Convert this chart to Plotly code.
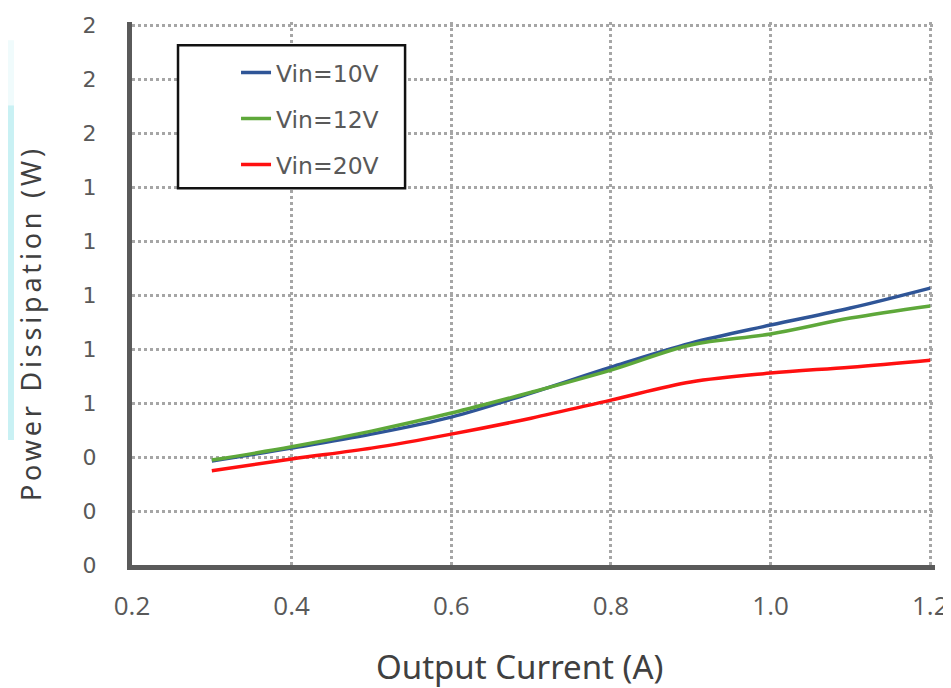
import plotly.graph_objects as go

current = [0.3, 0.4, 0.5, 0.6, 0.7, 0.8, 0.9, 1.0, 1.1, 1.2]
vin10 = [0.385, 0.433, 0.485, 0.548, 0.637, 0.733, 0.822, 0.889, 0.952, 1.026]
vin12 = [0.389, 0.438, 0.496, 0.563, 0.640, 0.722, 0.815, 0.856, 0.915, 0.960]
vin20 = [0.349, 0.393, 0.433, 0.485, 0.544, 0.611, 0.678, 0.711, 0.733, 0.759]

series_names = ["Vin=10V", "Vin=12V", "Vin=20V"]
series_colors = ["#2f5597", "#5ea83a", "#ff1010"]

y_tickvals = [0, 0.2, 0.4, 0.6, 0.8, 1.0, 1.2, 1.4, 1.6, 1.8, 2.0]
y_ticktext = ["0", "0", "0", "1", "1", "1", "1", "1", "2", "2", "2"]
x_tickvals = [0.2, 0.4, 0.6, 0.8, 1.0, 1.2]
x_ticktext = ["0.2", "0.4", "0.6", "0.8", "1.0", "1.2"]

x_title = "Output Current (A)"
y_title = "Power Dissipation (W)"

fig = go.Figure()
for name, ys, col in zip(series_names, [vin10, vin12, vin20], series_colors):
    fig.add_trace(go.Scatter(
        x=current, y=ys, name=name, mode="lines",
        line=dict(color=col, width=3.5, shape="spline", smoothing=1.0),
        legendgroup=name,
    ))

grid_col = "#a6a6a6"
axis_col = "#5a5a5a"

# page = figure + 8px body margin
X_MAX, Y_MAX = 1.206, 2.012
L = 124
PW = 798 * (X_MAX - 0.2) / 1.0
PH = 540 * Y_MAX / 2.0
T = 17 - (PH - 540)
W, H = 943, 680


def px(xf):
    return (xf - L) / PW


def py(yf):
    return 1 - (yf - T) / PH


fig.update_layout(
    width=W, height=H,
    margin=dict(l=L, r=W - L - PW, t=T, b=H - T - PH),
    paper_bgcolor="white", plot_bgcolor="white",
    showlegend=True,
    legend=dict(
        x=px(228), y=py(42.5), xanchor="left", yanchor="top",
        borderwidth=0, bgcolor="rgba(0,0,0,0)",
        font=dict(family="DejaVu Sans", size=23.5, color="#595959"),
        tracegroupgap=12.5,
    ),
    xaxis=dict(
        range=[0.2, X_MAX], tickvals=x_tickvals, ticktext=x_ticktext,
        showgrid=True, gridcolor=grid_col, gridwidth=2.5, griddash="dot",
        showline=True, linecolor=axis_col, linewidth=5,
        zeroline=False, ticks="", ticklabelstandoff=14,
        ticklabeloverflow="allow",
        tickfont=dict(family="Liberation Sans Narrow, Open Sans", size=26, color="#595959"),
        automargin=False,
    ),
    yaxis=dict(
        range=[0, Y_MAX], tickvals=y_tickvals, ticktext=y_ticktext,
        showgrid=True, gridcolor=grid_col, gridwidth=2.5, griddash="dot",
        showline=True, linecolor=axis_col, linewidth=5,
        zeroline=False, ticks="", ticklabelstandoff=26,
        tickfont=dict(family="DejaVu Sans", size=22, color="#595959"),
        automargin=False,
    ),
    annotations=[
        dict(text=x_title, xref="paper", yref="paper", x=px(512), y=py(659),
             xanchor="center", yanchor="middle", showarrow=False,
             font=dict(family="Noto Sans", size=33, color="#404040")),
        dict(text='<span style="letter-spacing:3.8px">' + y_title + '</span>',
             xref="paper", yref="paper", x=px(22), y=py(315), textangle=-90,
             xanchor="center", yanchor="middle", showarrow=False,
             font=dict(family="Noto Sans", size=27, color="#404040")),
    ],
    shapes=[
        dict(type="rect", xref="paper", yref="paper",
             x0=px(0), x1=px(6), y0=py(432), y1=py(97),
             fillcolor="#c9f1f4", line=dict(width=0), layer="below"),
        dict(type="rect", xref="paper", yref="paper",
             x0=px(0), x1=px(6), y0=py(97), y1=py(32),
             fillcolor="#f0fbfc", line=dict(width=0), layer="below"),
        dict(type="rect", xref="paper", yref="paper",
             x0=px(170), x1=px(397), y0=py(180), y1=py(37),
             fillcolor="white", line=dict(color="#111111", width=2.5), layer="above"),
    ],
)

fig.write_html("out.html")
